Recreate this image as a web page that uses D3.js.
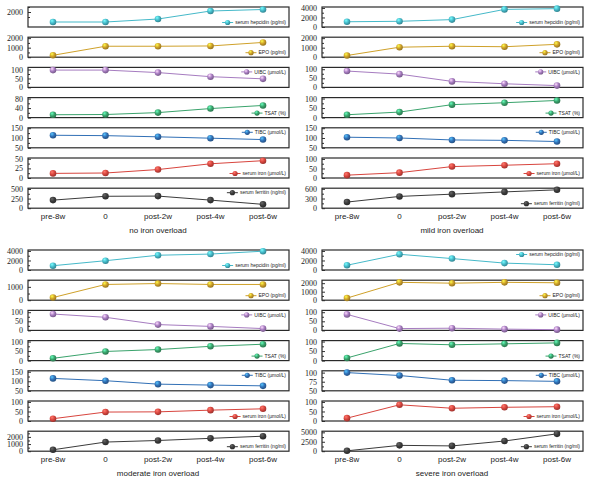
<!DOCTYPE html>
<html lang="en">
<head>
<meta charset="UTF-8"/>
<title>Iron markers by overload group</title>
<script src="https://d3js.org/d3.v7.min.js"></script>
<style>
	body { margin:0; background:#fff; }
	svg { display:block; }
	.ytick text { font-family:"Liberation Serif", serif; font-size:8px; fill:#222; }
	.xlab { font-family:"Liberation Sans", Arial, sans-serif; font-size:8px; fill:#222; }
	.leg { font-family:"Liberation Sans", Arial, sans-serif; font-size:5px; fill:#222; }
</style>
</head>
<body>
<script>

var timepoints = ["pre-8w", "0", "post-2w", "post-4w", "post-6w"];
var groups = ["no iron overload", "mild iron overload", "moderate iron overload", "severe iron overload"];
var seriesNames = ["serum hepcidin (pg/ml)", "EPO (pg/ml)", "UIBC (μmol/L)", "TSAT (%)",
	"TIBC (μmol/L)", "serum iron (μmol/L)", "serum ferritin (ng/ml)"];

// values per group: no, mild, moderate, severe
var hepcidin = [[1000, 1000, 1300, 2100, 2250], [1100, 1200, 1550, 3700, 3850],
	[900, 1950, 3100, 3350, 3950], [1000, 3300, 2400, 1450, 1100]];
var epo = [[200, 1150, 1150, 1180, 1550], [180, 1050, 1150, 1100, 1350],
	[200, 1180, 1250, 1180, 1180], [250, 2100, 2000, 2100, 2050]];
var uibc = [[97, 97, 83, 60, 48], [90, 73, 33, 20, 10],
	[90, 72, 32, 22, 10], [88, 10, 12, 7, 4]];
var tsat = [[12, 13, 21, 38, 51], [15, 29, 68, 78, 90],
	[12, 48, 58, 75, 86], [14, 90, 83, 88, 93]];
var tibc = [[114, 112, 106, 99, 92], [104, 100, 90, 88, 82],
	[115, 103, 85, 80, 76], [100, 92, 79, 78, 76]];
var serumIron = [[12, 13, 22, 37, 45], [15, 28, 60, 67, 75],
	[12, 47, 48, 57, 64], [15, 85, 67, 72, 75]];
var ferritin = [[210, 310, 315, 210, 100], [190, 365, 435, 505, 570],
	[200, 1280, 1500, 1800, 2100], [100, 1550, 1400, 2700, 4600]];

// y axis domains and labelled ticks, per series then per group
var yDomains = [
	[[500, 2500], [0, 4200], [0, 4200], [0, 4200]],
	[[0, 2100], [0, 2100], [0, 1500], [0, 2350]],
	[[0, 112], [0, 110], [0, 110], [0, 110]],
	[[0, 84], [0, 105], [0, 105], [0, 105]],
	[[50, 152], [50, 152], [50, 155], [50, 105]],
	[[0, 52], [0, 105], [0, 105], [0, 105]],
	[[0, 520], [0, 620], [0, 2800], [0, 5300]]
];
var yTicks = [
	[[2000], [0, 2000, 4000], [0, 2000, 4000], [0, 2000, 4000]],
	[[0, 1000, 2000], [0, 1000, 2000], [0, 1000], [0, 1000, 2000]],
	[[0, 50, 100], [0, 50, 100], [0, 50, 100], [0, 50, 100]],
	[[0, 40, 80], [0, 50, 100], [0, 50, 100], [0, 50, 100]],
	[[50, 100, 150], [50, 100, 150], [50, 100, 150], [50, 75, 100]],
	[[0, 25, 50], [0, 50, 100], [0, 50, 100], [0, 50, 100]],
	[[0, 250, 500], [0, 300, 600], [0, 1000, 2000], [0, 2500, 5000]]
];

var allSeries = [hepcidin, epo, uibc, tsat, tibc, serumIron, ferritin];
var colors = ["#45b9c9", "#cfa12a", "#a67cc0", "#3aa36c", "#3170b6", "#d8453e", "#3b3b3b"];

// legend at top (true) or bottom (false) of each small plot
var legendTop = [
	[false, false, true, false, true, false, true],
	[false, false, true, false, true, false, false],
	[false, false, true, false, true, false, false],
	[true, false, true, false, true, false, false]
];

var w = 591, h = 480;
var panelX = [28, 322];
var panelY = [0, 243];
var frameW = 261, frameH = 20, step = 30.2;

var svg = d3.select("body").append("svg")
	.attr("width", w)
	.attr("height", h);

// sphere-like gradients
var defs = svg.append("defs");
colors.forEach(function(c, i) {
	var g = defs.append("radialGradient")
		.attr("id", "ball" + i)
		.attr("cx", "38%").attr("cy", "35%").attr("r", "65%")
		.attr("fx", "35%").attr("fy", "30%");
	g.append("stop").attr("offset", "0%").attr("stop-color", d3.color(c).brighter(1.6));
	g.append("stop").attr("offset", "55%").attr("stop-color", c);
	g.append("stop").attr("offset", "100%").attr("stop-color", d3.color(c).darker(0.9));
});

groups.forEach(function(title, gi) {
	var px = panelX[gi % 2];
	var py = panelY[Math.floor(gi / 2)];

	var xScale = d3.scalePoint()
		.domain(timepoints)
		.range([px + 25, px + 235]);

	allSeries.forEach(function(series, si) {
		var top = py + 7 + si * step;
		var vals = series[gi];
		var dom = yDomains[si][gi];
		var ticks = yTicks[si][gi];

		var yScale = d3.scaleLinear()
			.domain(dom)
			.range([top + frameH, top]);

		// minor ticks halfway between labelled ones
		var gap = ticks.length > 1 ? ticks[1] - ticks[0] : 1000;
		var minor = [];
		for (var v = ticks[0] - gap / 2; v <= dom[1]; v += gap) {
			if (v >= dom[0]) minor.push(v);
		}

		svg.append("g")
			.attr("transform", "translate(" + px + ",0)")
			.call(d3.axisLeft(yScale).tickValues(minor).tickSize(-2).tickFormat(""))
			.call(function(g) { g.select(".domain").remove(); })
			.selectAll("line").attr("stroke", "#333");

		var ya = svg.append("g")
			.attr("class", "ytick")
			.attr("transform", "translate(" + px + ",0)")
			.call(d3.axisLeft(yScale).tickValues(ticks).tickSize(-3).tickPadding(5).tickFormat(d3.format("d")));
		ya.select(".domain").remove();
		ya.selectAll("line").attr("stroke", "#333");

		// frame
		svg.append("rect")
			.attr("x", px).attr("y", top)
			.attr("width", frameW).attr("height", frameH)
			.attr("fill", "none")
			.attr("stroke", "#2a2a2a")
			.attr("stroke-width", 1.2);

		var line = d3.line()
			.x(function(d, i) { return xScale(timepoints[i]); })
			.y(function(d) { return yScale(d); });

		svg.append("path")
			.datum(vals)
			.attr("d", line)
			.attr("fill", "none")
			.attr("stroke", colors[si])
			.attr("stroke-width", 1);

		svg.selectAll(null)
			.data(vals)
			.enter()
			.append("circle")
			.attr("cx", function(d, i) { return xScale(timepoints[i]); })
			.attr("cy", function(d) { return yScale(d); })
			.attr("r", 3.3)
			.attr("fill", "url(#ball" + si + ")");

		// legend
		var ly = legendTop[gi][si] ? top + 4.5 : top + frameH - 4.5;
		var lg = svg.append("g")
			.attr("transform", "translate(" + (px + frameW - 3) + "," + ly + ")");
		var lt = lg.append("text")
			.attr("class", "leg")
			.attr("text-anchor", "end")
			.attr("dy", "0.35em")
			.text(seriesNames[si]);
		var tw = lt.node().getComputedTextLength();
		lg.append("line")
			.attr("x1", -tw - 13).attr("x2", -tw - 2)
			.attr("stroke", colors[si]).attr("stroke-width", 1);
		lg.append("circle")
			.attr("cx", -tw - 7.5).attr("r", 2.6)
			.attr("fill", "url(#ball" + si + ")");
	});

	// x labels
	svg.selectAll(null)
		.data(timepoints)
		.enter()
		.append("text")
		.attr("class", "xlab")
		.attr("x", function(d) { return xScale(d); })
		.attr("y", py + 219)
		.attr("text-anchor", "middle")
		.text(function(d) { return d; });

	svg.append("text")
		.attr("class", "xlab")
		.attr("x", px + 130)
		.attr("y", py + 233)
		.attr("text-anchor", "middle")
		.text(title);
});

</script>
</body>
</html>
